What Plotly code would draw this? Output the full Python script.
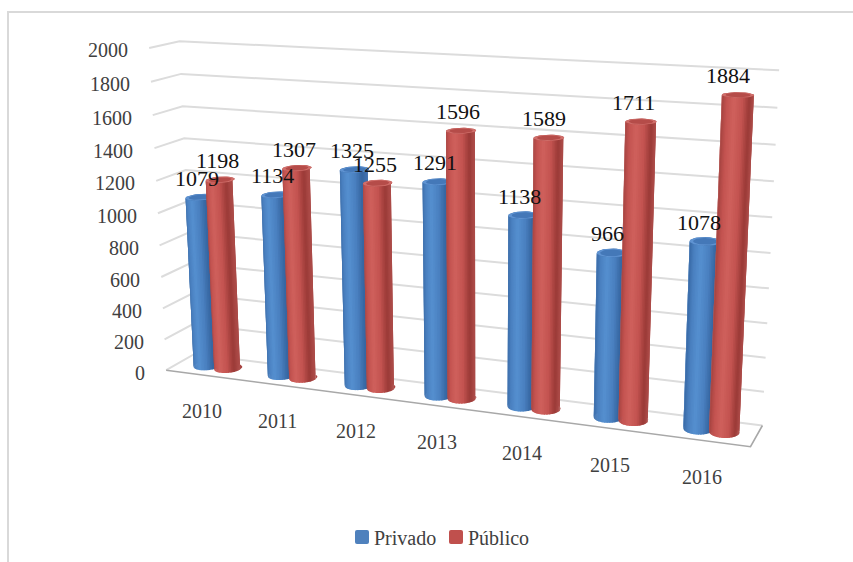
import numpy as np
import plotly.graph_objects as go

years = ["2010", "2011", "2012", "2013", "2014", "2015", "2016"]
privado = [1079, 1134, 1325, 1291, 1138, 966, 1078]
publico = [1198, 1307, 1255, 1596, 1589, 1711, 1884]
z_ticks = [0, 200, 400, 600, 800, 1000, 1200, 1400, 1600, 1800, 2000]

# Perspective view of the chart box: (category, depth, value/2000) -> plane of the drawing
VIEW = np.array([
    [69.8123, 34.4711, -24.6111, 166.182],
    [2.8029, -5.09488, -324.728, 370.196],
    [-0.018204, 0.0315816, -0.0509799, 1.0],
])
RX = 0.16   # cylinder radius along the category axis
RY = 0.28   # cylinder radius along the depth axis
MID = 0.5   # depth of the row of cylinders
BLUE_OFFSET = -0.125  # cylinder centres relative to the category centre
RED_OFFSET = 0.155


def project(x, y, z):
    x = np.atleast_1d(np.asarray(x, float))
    y = np.asarray(y, float) * np.ones_like(x)
    z = np.asarray(z, float) / 2000 * np.ones_like(x)
    w = VIEW[2, 0] * x + VIEW[2, 1] * y + VIEW[2, 2] * z + 1
    return ((VIEW[0, 0] * x + VIEW[0, 1] * y + VIEW[0, 2] * z + VIEW[0, 3]) / w,
            (VIEW[1, 0] * x + VIEW[1, 1] * y + VIEW[1, 2] * z + VIEW[1, 3]) / w)


fig = go.Figure()


def seg(xs, ys, zs, color, width):
    a, b = project(xs, ys, zs)
    fig.add_trace(go.Scatter(x=a, y=b, mode="lines", line=dict(color=color, width=width),
                             hoverinfo="skip", showlegend=False))


# Walls and floor outline
for v in z_ticks:
    seg([0, 0, 7], [0, 1, 1], [v, v, v], "#dcdcdc", 2)
seg([0, 7, 7], [0, 0, 1], [0, 0, 0], "#a8a8a8", 1.6)

# Colour across a cylinder, from its left silhouette (-1) to its right one (1)
STOPS = [-1, -.85, -.5, 0, .5, .85, 1]
BLUE = ["#4f83c0", "#3a6ca8", "#4a80c0", "#5690d0", "#4a80c0", "#3565a0", "#4272b0"]
RED = ["#bd605d", "#a84542", "#c35350", "#d0615d", "#c35350", "#9a3a37", "#ad4c49"]


def hexrgb(h):
    return np.array([int(h[i:i + 2], 16) for i in (1, 3, 5)], float)


def ramp(s, cols):
    c = np.array([hexrgb(h) for h in cols])
    return "rgb(%d,%d,%d)" % tuple(np.interp(s, STOPS, c[:, k]) for k in range(3))


def polys(fn, centers, vals):
    xs, ys = [], []
    for c, h in zip(centers, vals):
        a, b = fn(c, h)
        xs += list(a) + [None]
        ys += list(b) + [None]
    return xs, ys


def addfill(xs, ys, color):
    fig.add_trace(go.Scatter(x=xs, y=ys, mode="lines", fill="toself", fillcolor=color,
                             line=dict(color=color, width=0), hoverinfo="skip", showlegend=False))


theta = np.linspace(np.pi, 2 * np.pi, 29)
step = theta[1] - theta[0]


def series(centers, vals, cols, rim, cap):
    def back(c, h):
        t = np.linspace(0, np.pi, 15)
        x = list(c + RX * np.cos(t)) + list(c + RX * np.cos(t[::-1]))
        y = list(MID + RY * np.sin(t)) + list(MID + RY * np.sin(t[::-1]))
        return project(x, y, [0] * 15 + [h] * 15)

    addfill(*polys(back, centers, vals), cols[1])

    # Side wall as vertical strips; each one overlaps the next so no seams show
    for t0 in theta[:-1]:
        t1 = min(t0 + 1.6 * step, 2 * np.pi)
        arc = np.linspace(t0, t1, 4)

        def strip(c, h):
            x = list(c + RX * np.cos(arc)) + list(c + RX * np.cos(arc[::-1]))
            y = list(MID + RY * np.sin(arc)) + list(MID + RY * np.sin(arc[::-1]))
            return project(x, y, [0] * 4 + [h] * 4)

        addfill(*polys(strip, centers, vals), ramp(np.cos(t0 + step / 2), cols))

    # Top face with its bevelled rim
    t = np.linspace(0, 2 * np.pi, 49)

    def disc(f):
        return lambda c, h: project(c + f * RX * np.cos(t), MID + f * RY * np.sin(t), np.full_like(t, h))

    addfill(*polys(disc(1.0), centers, vals), rim)
    addfill(*polys(disc(0.78), centers, vals), cap)


cent = np.arange(len(years)) + .5
series(cent + BLUE_OFFSET, privado, BLUE, "#5f93d2", "#4478b8")
series(cent + RED_OFFSET, publico, RED, "#d06e6a", "#b54c49")

ann = []
TICK_FONT = dict(family="Liberation Serif", size=20, color="#404040")
VALUE_FONT = dict(family="Liberation Serif", size=22, color="#111111")


def label(x, y, text, font, **kw):
    ann.append(dict(x=x, y=y, xref="x", yref="y", text=text, showarrow=False, font=font, **kw))


for v in z_ticks:
    a, b = project(0, 0, v)
    label(float(a[0]) - 19, float(b[0]) + 2.5, str(v), TICK_FONT, xanchor="right")

for i, yr in enumerate(years):
    a, b = project(i + .5, 0, 0)
    label(float(a[0]) - 1, float(b[0]) + 36, yr, TICK_FONT)
    for c, vals in ((i + .5 + BLUE_OFFSET, privado), (i + .5 + RED_OFFSET, publico)):
        a, b = project(c, MID, vals[i])
        a0, _ = project(c, MID, 0)
        lean = max(float(a[0] - a0[0]), 0)
        label(float(a[0]) - 3 - lean * .55, float(b[0]) - 19, str(vals[i]), VALUE_FONT)

# Legend
label(372, 538, "Privado", TICK_FONT, xanchor="left")
label(466, 538, "Público", TICK_FONT, xanchor="left")


def swatch(x0, y0, x1, y1, color, rad=2):
    return dict(type="path", xref="x", yref="y",
                path=f"M{x0+rad},{y0} L{x1-rad},{y0} Q{x1},{y0} {x1},{y0+rad} L{x1},{y1-rad} "
                     f"Q{x1},{y1} {x1-rad},{y1} L{x0+rad},{y1} Q{x0},{y1} {x0},{y1-rad} "
                     f"L{x0},{y0+rad} Q{x0},{y0} {x0+rad},{y0} Z",
                fillcolor=color, line=dict(width=0))


shapes = [
    swatch(355, 530, 369, 544, "#4f81bd"),
    swatch(449, 530, 463, 544, "#c0504d"),
    dict(type="line", xref="x", yref="y", x0=7, x1=853, y0=12, y1=12, line=dict(color="#d9d9d9", width=2)),
    dict(type="line", xref="x", yref="y", x0=8, x1=8, y0=11, y1=562, line=dict(color="#d9d9d9", width=2)),
]

fig.update_layout(width=853, height=562, margin=dict(l=0, r=0, t=0, b=0),
                  paper_bgcolor="white", plot_bgcolor="white", showlegend=False,
                  xaxis=dict(visible=False, range=[0, 853]),
                  yaxis=dict(visible=False, range=[562, 0]),
                  annotations=ann, shapes=shapes)
fig.write_html("out.html")
